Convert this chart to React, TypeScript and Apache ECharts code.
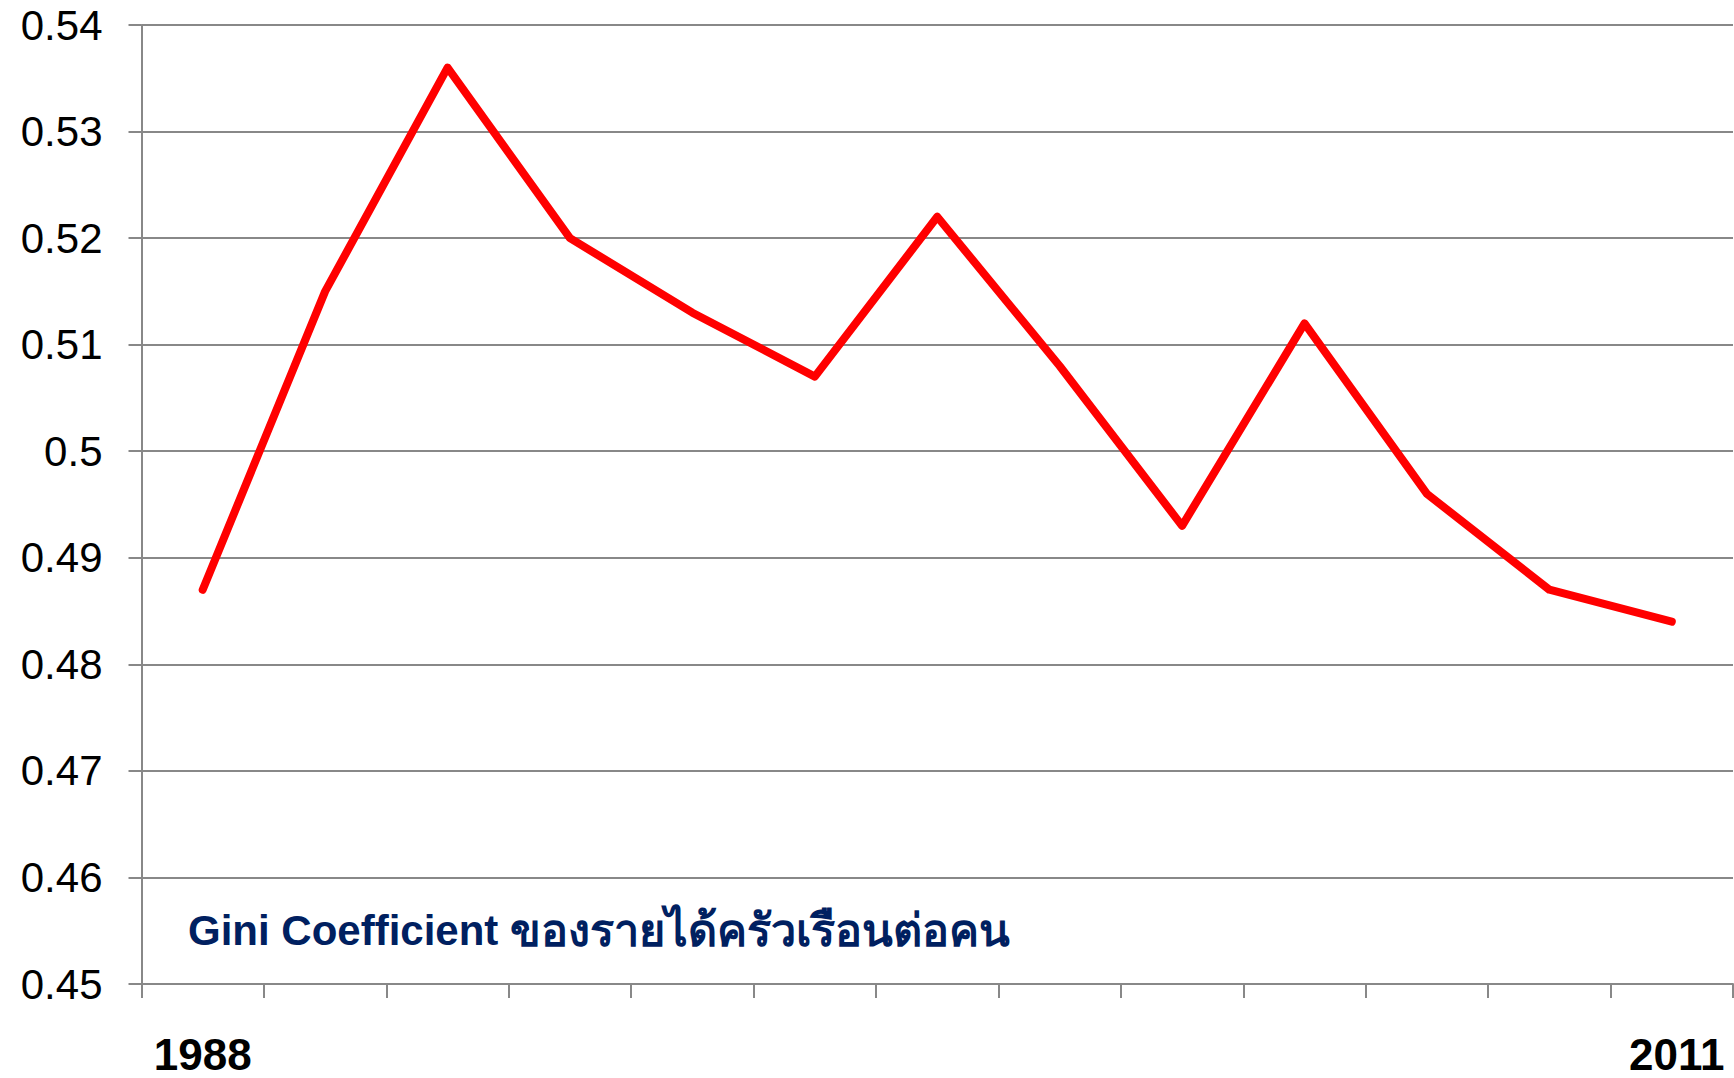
import React, { useEffect, useRef } from "react";
import * as echarts from "echarts";

const years = ["1988", "1990", "1992", "1994", "1996", "1998", "2000", "2002", "2004", "2006", "2007", "2009", "2011"];
const gini = [0.487, 0.515, 0.536, 0.52, 0.513, 0.507, 0.522, 0.508, 0.493, 0.512, 0.496, 0.487, 0.484];
const yMin = 0.45;
const yMax = 0.54;
const yStep = 0.01;
const noteLatin = "Gini Coefficient ";
const noteThai = "ของรายได้ครัวเรือนต่อคน";

const FONT = "'Liberation Sans', Arial, Tahoma, sans-serif";

export default function App() {
  const ref = useRef<HTMLDivElement>(null);
  useEffect(() => {
    if (!ref.current) return;
    const chart = echarts.init(ref.current, undefined, { renderer: "svg" });
    const last = years.length - 1;
    chart.setOption({
      animation: false,
      backgroundColor: "#ffffff",
      grid: { left: 141.5, right: 1, top: 25, bottom: 94, containLabel: false, outerBoundsMode: "none" },
      xAxis: {
        type: "category",
        data: years,
        boundaryGap: true,
        axisLine: { show: true, lineStyle: { color: "#888888", width: 2 } },
        axisTick: { show: true, interval: 0, length: 14, inside: false, lineStyle: { color: "#888888", width: 2 } },
        splitLine: { show: false },
        axisLabel: {
          interval: (i: number) => i === 0 || i === last,
          formatter: (v: string, i: number) => (i === last ? "{r|" + v + "}" : v),
          fontFamily: FONT,
          fontSize: 44,
          fontWeight: "bold",
          color: "#000000",
          lineHeight: 36,
          margin: 52,
          rich: {
            r: { fontFamily: FONT, fontSize: 44, fontWeight: "bold", color: "#000000", lineHeight: 36, padding: [0, 0, 0, 10] },
          },
        },
      },
      yAxis: {
        type: "value",
        min: yMin,
        max: yMax,
        interval: yStep,
        axisLine: { show: true, lineStyle: { color: "#888888", width: 2 } },
        axisTick: { show: true, length: 13, inside: false, lineStyle: { color: "#888888", width: 2 } },
        splitLine: { show: true, lineStyle: { color: "#888888", width: 2 } },
        axisLabel: {
          formatter: (v: number) => String(parseFloat(v.toFixed(2))),
          fontFamily: FONT,
          fontSize: 42,
          color: "#000000",
          margin: 39,
        },
      },
      series: [
        {
          type: "line",
          data: gini,
          symbol: "none",
          lineStyle: { color: "#ff0000", width: 8, cap: "round", join: "round" },
        },
      ],
      graphic: [
        {
          type: "text",
          x: 188,
          y: 930,
          style: {
            text: "{a|" + noteLatin + "}{t|" + noteThai + "}",
            fill: "#002060",
            fontFamily: FONT,
            fontSize: 42,
            fontWeight: "bold",
            verticalAlign: "middle",
            align: "left",
            rich: {
              a: { fill: "#002060", fontFamily: FONT, fontSize: 42, fontWeight: "bold" },
              t: { fill: "#002060", fontFamily: FONT, fontSize: 45, fontWeight: "bold" },
            },
          },
        },
      ],
    });
    return () => chart.dispose();
  }, []);
  return <div ref={ref} style={{ position: "fixed", left: 0, top: 0, width: 1734, height: 1078 }} />;
}
